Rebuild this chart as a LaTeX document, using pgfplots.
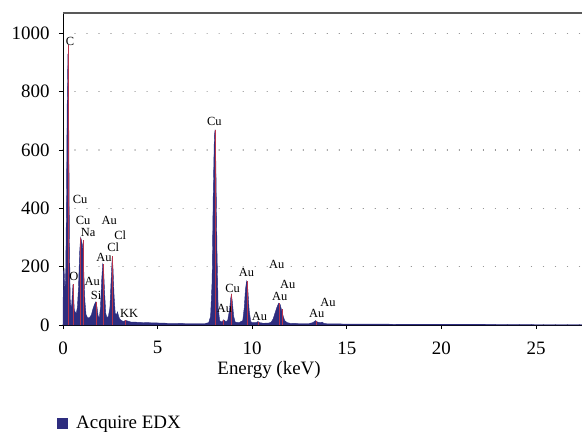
\documentclass[border=0pt]{standalone}
\usepackage{fontspec}
\setmainfont{Liberation Serif}
\usepackage{pgfplots}
\pgfplotsset{compat=1.18}
\definecolor{navy}{HTML}{2E2D7F}
\definecolor{pk}{HTML}{B8324A}
\begin{document}
\begin{tikzpicture}
\begin{axis}[
  name=ax,
  at={(0,0)}, anchor=south west,
  scale only axis,
  width=519bp, height=312bp,
  xmin=0, xmax=27.43, ymin=0, ymax=1070,
  axis lines*=left,
  axis line style={black, line width=0.9pt},
  tick align=outside,
  major tick length=4bp,
  tick style={black, line width=0.9pt},
  xtick={0,5,10,15,20,25},
  ytick={0,200,400,600,800,1000},
  ymajorgrids,
  major grid style={gray, line width=1.2pt, dash pattern=on 0.01pt off 12bp, line cap=round},
  /pgf/number format/assume math mode=true,
  /pgf/number format/set thousands separator={},
  tick label style={font=\fontsize{19}{21}\selectfont},
  xticklabel style={yshift=-9bp},
  yticklabel style={xshift=-6bp},
  xlabel={Energy (keV)},
  label style={font=\fontsize{19}{21}\selectfont},
  xlabel style={at={(rel axis cs:0.397,0)}, anchor=center, yshift=-45bp},
  legend style={at={(rel axis cs:0,0)}, anchor=north west, xshift=-12bp, yshift=-87bp,
    draw=none, fill=none, font=\fontsize{19}{21}\selectfont},
  legend cell align=left,
  clip=true,
  extra description/.code={\draw[gray!70!black, line width=1.4pt] (rel axis cs:0,1) -- (rel axis cs:1,1);},
]
\addplot[fill=navy, draw=navy, line width=0.4pt, area legend,
  legend image code/.code={\fill[navy, draw=none] (3bp,-5.5bp) rectangle (14bp,5.5bp); \path[draw=none, fill=none] (0,0) -- (20bp,0);}] coordinates {
(0.00,0) (0.02,180) (0.06,190) (0.10,120) (0.14,160) (0.18,400) (0.22,750) (0.26,930) (0.30,740)
(0.34,300) (0.38,90) (0.42,60) (0.46,70) (0.50,115) (0.53,140) (0.56,100) (0.60,50) (0.64,45)
(0.70,40) (0.76,60) (0.82,130) (0.88,250) (0.93,300) (0.98,290) (1.04,270) (1.10,180) (1.16,80)
(1.22,35) (1.30,25) (1.40,25) (1.50,35) (1.58,55) (1.66,70) (1.74,80) (1.80,60) (1.86,30)
(1.92,25) (1.98,60) (2.04,150) (2.10,210) (2.14,200) (2.20,110) (2.26,40) (2.32,25) (2.40,30)
(2.48,60) (2.54,150) (2.60,230) (2.64,200) (2.70,100) (2.76,40) (2.82,35) (2.88,45) (2.94,30)
(3.00,20) (3.10,15) (3.20,12) (3.30,16) (3.40,14) (3.50,12) (3.60,10) (3.80,10) (4.0,9)
(4.5,8) (5.0,7) (5.5,6) (6.0,6) (6.5,5) (7.0,5) (7.5,5) (7.70,8) (7.80,30) (7.88,150) (7.94,450)
(8.00,650) (8.04,670) (8.08,550) (8.14,250) (8.20,60) (8.28,15) (8.40,10) (8.49,18) (8.60,12)
(8.70,15) (8.80,50) (8.86,90) (8.90,105) (8.95,80) (9.02,30) (9.10,10) (9.30,8) (9.50,15)
(9.58,60) (9.64,120) (9.70,150) (9.76,130) (9.84,50) (9.92,12) (10.0,8) (10.2,8) (10.3,12)
(10.4,8) (10.6,6) (10.9,7) (11.0,10) (11.1,20) (11.2,40) (11.3,60) (11.40,75) (11.48,70)
(11.56,50) (11.64,30) (11.72,15) (11.85,8) (12.0,6) (12.5,5) (13.0,5) (13.2,8) (13.35,15)
(13.45,10) (13.6,8) (13.70,10) (13.8,5) (14.0,4) (14.5,4) (15,3) (16,3) (17,3) (18,2) (19,2)
(20,2) (22,2) (25,1) (27.5,1)
} \closedcycle;
\addlegendentry{Acquire EDX}
\addplot[ycomb, draw=pk, line width=0.3pt, forget plot] coordinates {
(0.28,960) (0.52,140) (0.93,300) (1.04,290) (1.74,80) (2.12,210) (2.62,235) (3.31,16)
(8.04,670) (8.49,18) (8.90,105) (9.71,150) (10.31,12) (11.44,75) (11.58,55) (13.38,15)
};
\begin{scope}[every node/.style={font=\fontsize{12.5}{14}\selectfont, inner sep=0pt}]
\node at (axis cs:0.37,973) {C};
\node at (axis cs:0.90,431) {Cu};
\node at (axis cs:1.06,360) {Cu};
\node at (axis cs:1.33,318) {Na};
\node at (axis cs:2.44,360) {Au};
\node at (axis cs:3.02,308) {Cl};
\node at (axis cs:2.65,267) {Cl};
\node at (axis cs:2.17,233) {Au};
\node at (axis cs:0.58,168) {O};
\node at (axis cs:1.54,151) {Au};
\node at (axis cs:1.75,103) {Si};
\node at (axis cs:3.50,41) {KK};
\node at (axis cs:8.00,699) {Cu};
\node at (axis cs:11.30,209) {Au};
\node at (axis cs:9.70,181) {Au};
\node at (axis cs:8.96,127) {Cu};
\node at (axis cs:11.88,140) {Au};
\node at (axis cs:11.45,99) {Au};
\node at (axis cs:8.54,58) {Au};
\node at (axis cs:10.39,31) {Au};
\node at (axis cs:14.00,79) {Au};
\node at (axis cs:13.41,41) {Au};
\end{scope}
\end{axis}
\pgfresetboundingbox
\path (-63bp,-107bp) rectangle (519bp,325bp);
\end{tikzpicture}
\end{document}
